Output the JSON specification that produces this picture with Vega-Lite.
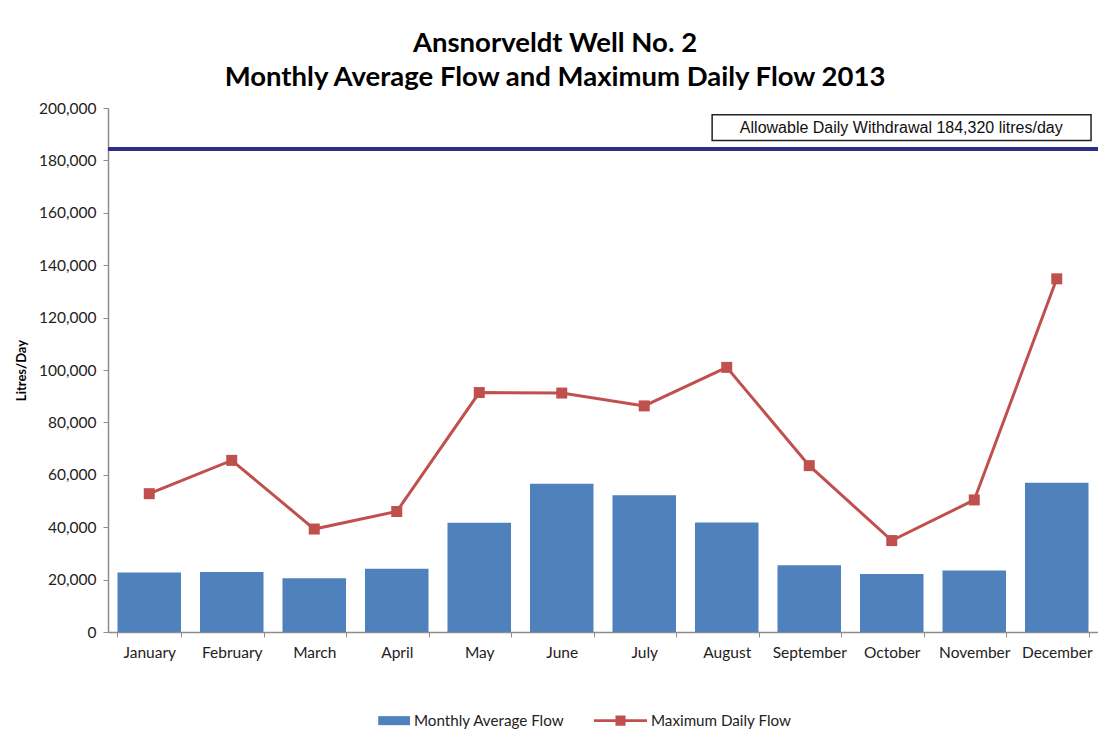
{
  "$schema": "https://vega.github.io/schema/vega-lite/v6.json",
  "width": 990,
  "height": 524,
  "autosize": "none",
  "padding": {"left": 108, "top": 108, "right": 0, "bottom": 120},
  "background": "white",
  "title": {
    "text": ["Ansnorveldt Well No. 2", "Monthly Average Flow and Maximum Daily Flow 2013"],
    "font": "Lato",
    "fontSize": 27.5,
    "fontWeight": "bold",
    "color": "#000000",
    "lineHeight": 34,
    "anchor": "middle",
    "dx": -48,
    "offset": 10
  },
  "config": {
    "view": {"stroke": null},
    "axis": {"labelFont": "Lato", "titleFont": "Lato", "labelColor": "#222222", "grid": false}
  },
  "datasets": {
    "flows": [
      {"month": "January", "avg": 22700, "max": 52800},
      {"month": "February", "avg": 22900, "max": 65500},
      {"month": "March", "avg": 20500, "max": 39300},
      {"month": "April", "avg": 24100, "max": 46000},
      {"month": "May", "avg": 41700, "max": 91400},
      {"month": "June", "avg": 56600, "max": 91200},
      {"month": "July", "avg": 52200, "max": 86300},
      {"month": "August", "avg": 41800, "max": 101000},
      {"month": "September", "avg": 25500, "max": 63500},
      {"month": "October", "avg": 22100, "max": 34900},
      {"month": "November", "avg": 23500, "max": 50400},
      {"month": "December", "avg": 57000, "max": 134800}
    ],
    "limit": [{"allowable": 184320}],
    "note": [{"x1": "August", "x2": "December", "xt": "October", "y1": 187600, "y2": 197400, "yt": 192500, "label": "Allowable Daily Withdrawal 184,320 litres/day"}]
  },
  "layer": [
    {
      "data": {"name": "flows"},
      "mark": {"type": "bar", "color": "#4f81bd"},
      "encoding": {
        "x": {
          "field": "month", "type": "nominal", "sort": null,
          "scale": {"paddingInner": 0.23, "paddingOuter": 0.115},
          "axis": {
            "title": null, "labelAngle": 0, "labelFontSize": 15.5, "labelPadding": 8,
            "tickBand": "extent", "tickSize": 5, "tickColor": "#8c8c8c",
            "domainColor": "#8c8c8c", "domainWidth": 1.5
          }
        },
        "y": {
          "field": "avg", "type": "quantitative",
          "scale": {"domain": [0, 200000], "nice": false},
          "axis": {
            "title": "Litres/Day", "titleFontSize": 13, "titleFontWeight": "bold", "titleColor": "#000000",
            "titlePadding": 10,
            "values": [0, 20000, 40000, 60000, 80000, 100000, 120000, 140000, 160000, 180000, 200000],
            "format": ",.0f", "labelFontSize": 15.5, "labelPadding": 7,
            "tickSize": 5, "tickColor": "#8c8c8c", "domainColor": "#8c8c8c", "domainWidth": 1.5
          }
        },
        "color": {
          "datum": "Monthly Average Flow",
          "scale": {"domain": ["Monthly Average Flow", "Maximum Daily Flow"], "range": ["#4f81bd", "#c0504d"]},
          "legend": {
            "orient": "none", "legendX": 249, "legendY": 586, "direction": "horizontal",
            "title": null, "symbolSize": 2809, "labelFont": "Lato", "labelFontSize": 15.2,
            "labelColor": "#222222", "labelOffset": 4, "columnPadding": 29,
            "encode": {
              "symbols": {
                "update": {
                  "shape": {"signal": "datum.value === 'Monthly Average Flow' ? 'M-0.2,-0.17H1V0.17H-0.2Z' : 'M-1,-0.055H1V0.055H-1Z M-0.19,-0.19H0.19V0.19H-0.19Z'"},
                  "fill": {"signal": "datum.value === 'Monthly Average Flow' ? '#4f81bd' : '#c0504d'"},
                  "stroke": {"value": "transparent"},
                  "strokeWidth": {"value": 0},
                  "opacity": {"value": 1},
                  "fillOpacity": {"value": 1}
                }
              }
            }
          }
        }
      }
    },
    {
      "data": {"name": "flows"},
      "mark": {"type": "line", "strokeWidth": 3, "point": {"shape": "square", "size": 121, "filled": true, "opacity": 1}},
      "encoding": {
        "x": {"field": "month", "type": "nominal", "sort": null},
        "y": {"field": "max", "type": "quantitative"},
        "color": {"datum": "Maximum Daily Flow"}
      }
    },
    {
      "data": {"name": "limit"},
      "mark": {"type": "rule", "color": "#2b2f86", "strokeWidth": 4},
      "encoding": {"y": {"field": "allowable", "type": "quantitative"}}
    },
    {
      "data": {"name": "note"},
      "mark": {"type": "rect", "fill": "white", "stroke": "#222222", "strokeWidth": 1.5},
      "encoding": {
        "x": {"field": "x1", "type": "nominal", "sort": null, "bandPosition": 0.27},
        "x2": {"field": "x2", "bandPosition": 1.04},
        "y": {"field": "y1", "type": "quantitative"},
        "y2": {"field": "y2"}
      }
    },
    {
      "data": {"name": "note"},
      "mark": {"type": "text", "font": "Liberation Sans", "fontSize": 16, "color": "#111111", "align": "center", "baseline": "middle"},
      "encoding": {
        "x": {"field": "xt", "type": "nominal", "sort": null, "bandPosition": 0.65},
        "y": {"field": "yt", "type": "quantitative"},
        "text": {"field": "label"}
      }
    }
  ]
}
